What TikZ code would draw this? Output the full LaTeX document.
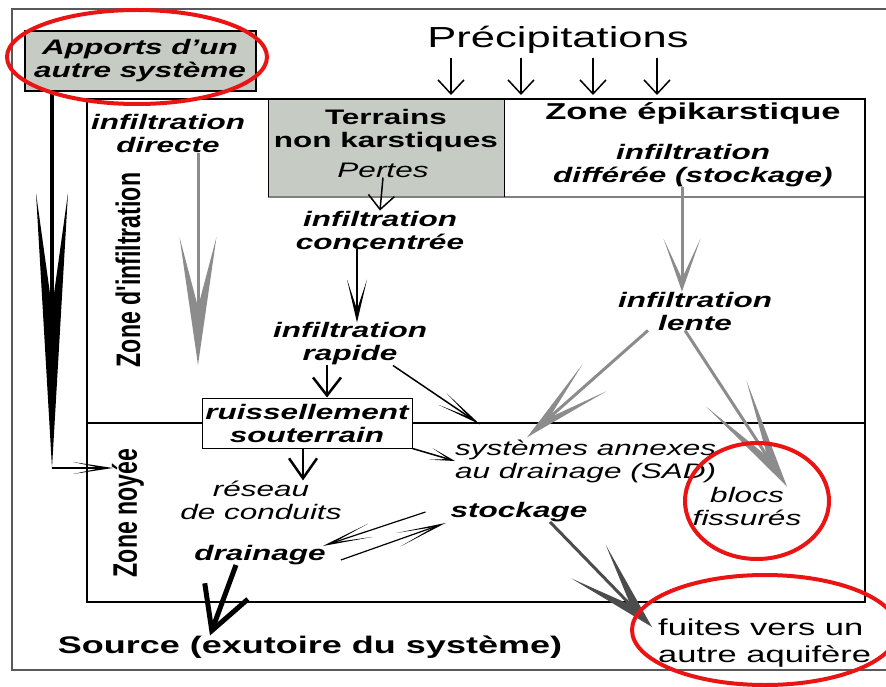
\documentclass[tikz,border=0pt]{standalone}
\usepackage{fontspec}
\setmainfont{Liberation Sans}[FakeStretch=1.5]
\newfontfamily\narrowfont{Liberation Sans}[FakeStretch=0.68]
\usetikzlibrary{arrows.meta}
\definecolor{boxgray}{RGB}{198,203,196}
\definecolor{arrgray}{RGB}{140,140,140}
\definecolor{ringred}{RGB}{235,20,20}
\tikzset{
  lab/.style={align=center, inner sep=0pt, font=\fontsize{21}{23}\selectfont\bfseries\itshape},
  ilab/.style={align=center, inner sep=0pt, font=\fontsize{21}{23}\selectfont\itshape},
  zonelab/.style={rotate=90, inner sep=0pt, font=\narrowfont\fontsize{34}{36}\selectfont\bfseries},
  vhead/.style n args={3}{-{Stealth[length=#1,width=#2,inset=#3,line width=0pt]}},
  barb/.style 2 args={-{Straight Barb[length=#1,width=#2]}},
  blk/.style={draw=black, line width=#1},
  gry/.style={draw=arrgray, line width=#1},
  ring/.style={draw=ringred, line width=4pt}
}
\begin{document}
\begin{tikzpicture}[x=1pt,y=-1pt]
\useasboundingbox (0,0) rectangle (886,687);
% frames
\draw[gray!70!black, line width=1.5pt] (12,9) rectangle (900,670);
\fill[boxgray] (268,99) rectangle (504,197);
\draw[gray, line width=1.5pt] (268,197) -- (865,197);
\draw[line width=1pt] (268,99) -- (268,197) (504,99) -- (504,197);
\draw[line width=2.5pt] (87,99) rectangle (865,602);
\draw[line width=2pt] (87,423) -- (865,423);

% labels
\node[lab, draw, line width=2pt, fill=boxgray, minimum width=231pt, minimum height=60pt] (apports) at (140,61) {Apports d'un\\autre système};
\node[inner sep=0pt, font=\fontsize{29}{31}\selectfont] (precip) at (558,40) {Précipitations};
\node[lab, font=\fontsize{21}{23}\selectfont\bfseries] (terrains) at (386,131) {Terrains\\non karstiques};
\node[ilab] (pertes) at (383,170) {Pertes};
\node[lab, font=\fontsize{23}{25}\selectfont\bfseries] (epik) at (693,113) {Zone épikarstique};
\node[lab] (differee) at (693,166) {infiltration\\différée (stockage)};
\node[lab] (directe) at (168,134) {infiltration\\directe};
\node[lab] (concentree) at (380,230) {infiltration\\concentrée};
\node[lab] (rapide) at (350,344) {infiltration\\rapide};
\node[lab] (lente) at (695,311) {infiltration\\lente};
\node[lab, draw, fill=white, line width=1pt, minimum width=210pt, minimum height=50pt] (ruiss) at (307,423) {ruissellement\\souterrain};
\node[ilab, align=left, anchor=west] (sad) at (455,461) {systèmes annexes\\au drainage (SAD)};
\node[ilab] (reseau) at (261,500) {réseau\\de conduits};
\node[lab] (drainage) at (260,555) {drainage};
\node[lab] (stockage) at (519,512) {stockage};
\node[ilab] (blocs) at (747,506) {blocs\\fissurés};
\node[align=left, anchor=west, inner sep=0pt, font=\fontsize{23}{27}\selectfont] (fuites) at (658,643) {fuites vers un\\autre aquifère};
\node[inner sep=0pt, font=\fontsize{24}{26}\selectfont\bfseries] (source) at (310,647) {Source (exutoire du système)};
\node[zonelab] (zinf) at (128,270) {Zone d'infiltration};
\node[zonelab] (znoy) at (128,513) {Zone noyée};

% precipitations
\foreach \x [count=\i] in {451,521,593,657} {
  \coordinate (rain\i) at (\x,95);
  \draw[blk=1.5pt, barb={14pt}{26pt}] (\x,58) -- (rain\i);
}

% apports d'un autre systeme
\coordinate (lefttip) at (52,468);
\coordinate (noyin) at (113,468);
\draw[blk=4pt, vhead={275pt}{32pt}{115pt}] (apports.south -| lefttip) -- (lefttip);
\draw[blk=1.5pt, vhead={40pt}{12pt}{28pt}] (lefttip) -- (noyin);

% zone d'infiltration
\coordinate (dirtip) at (198,365);
\draw[gry=3pt, vhead={128pt}{37pt}{70pt}] (directe.south -| dirtip) -- (dirtip);
\draw[blk=1.5pt, barb={14pt}{26pt}] (pertes.south) -- (concentree.north);
\draw[blk=2pt, vhead={43pt}{20pt}{30pt}] ([xshift=-23pt]concentree.south) -- ([xshift=7pt]rapide.north);
\draw[blk=2.5pt, barb={18pt}{28pt}] ([xshift=-23pt]rapide.south) -- ([xshift=20pt]ruiss.north);
\draw[blk=1.5pt, vhead={45pt}{14pt}{32pt}] ([xshift=43pt]rapide.south) -- ([xshift=25pt,yshift=15pt]sad.north west);
\draw[gry=3pt, vhead={53pt}{37pt}{40pt}] ([xshift=-11pt]differee.south) -- ([xshift=-13pt]lente.north);
\draw[gry=3pt, vhead={90pt}{36pt}{60pt}] ([xshift=-47pt]lente.south) -- ([xshift=72pt,yshift=2pt]sad.north west);
\draw[gry=3pt, vhead={111pt}{48pt}{75pt}] ([xshift=-10pt]lente.south) -- ([xshift=40pt]blocs.north);

% zone noyee
\draw[blk=2.5pt, barb={20pt}{28pt}] ([xshift=-4pt]ruiss.south) -- ([xshift=-4pt]ruiss.south |- reseau.north);
\draw[blk=1.5pt, vhead={25pt}{12pt}{18pt}] (ruiss.south east) -- (sad.west);
\draw[blk=1.2pt, vhead={50pt}{14pt}{38pt}] ([xshift=-25pt]stockage.west) -- ([xshift=-3pt,yshift=9pt]drainage.east);
\draw[blk=1.2pt, vhead={50pt}{14pt}{38pt}] ([xshift=15pt,yshift=-5pt]drainage.east) -- ([xshift=-5pt,yshift=-11pt]stockage.west);
\draw[draw=gray!60!black, line width=3pt, vhead={91pt}{48pt}{60pt}] ([xshift=31pt]stockage.south) -- ([xshift=-6pt,yshift=16pt]fuites.west);
\draw[blk=5pt, barb={42pt}{46pt}] ([xshift=-24pt]drainage.south) -- ([xshift=-100pt]source.north);

% red rings
\draw[ring] (137,57) ellipse [x radius=130pt, y radius=47pt];
\draw[ring] (757,501) ellipse [x radius=72pt, y radius=58pt];
\draw[ring] (765,630) ellipse [x radius=133pt, y radius=55pt];
\end{tikzpicture}
\end{document}
